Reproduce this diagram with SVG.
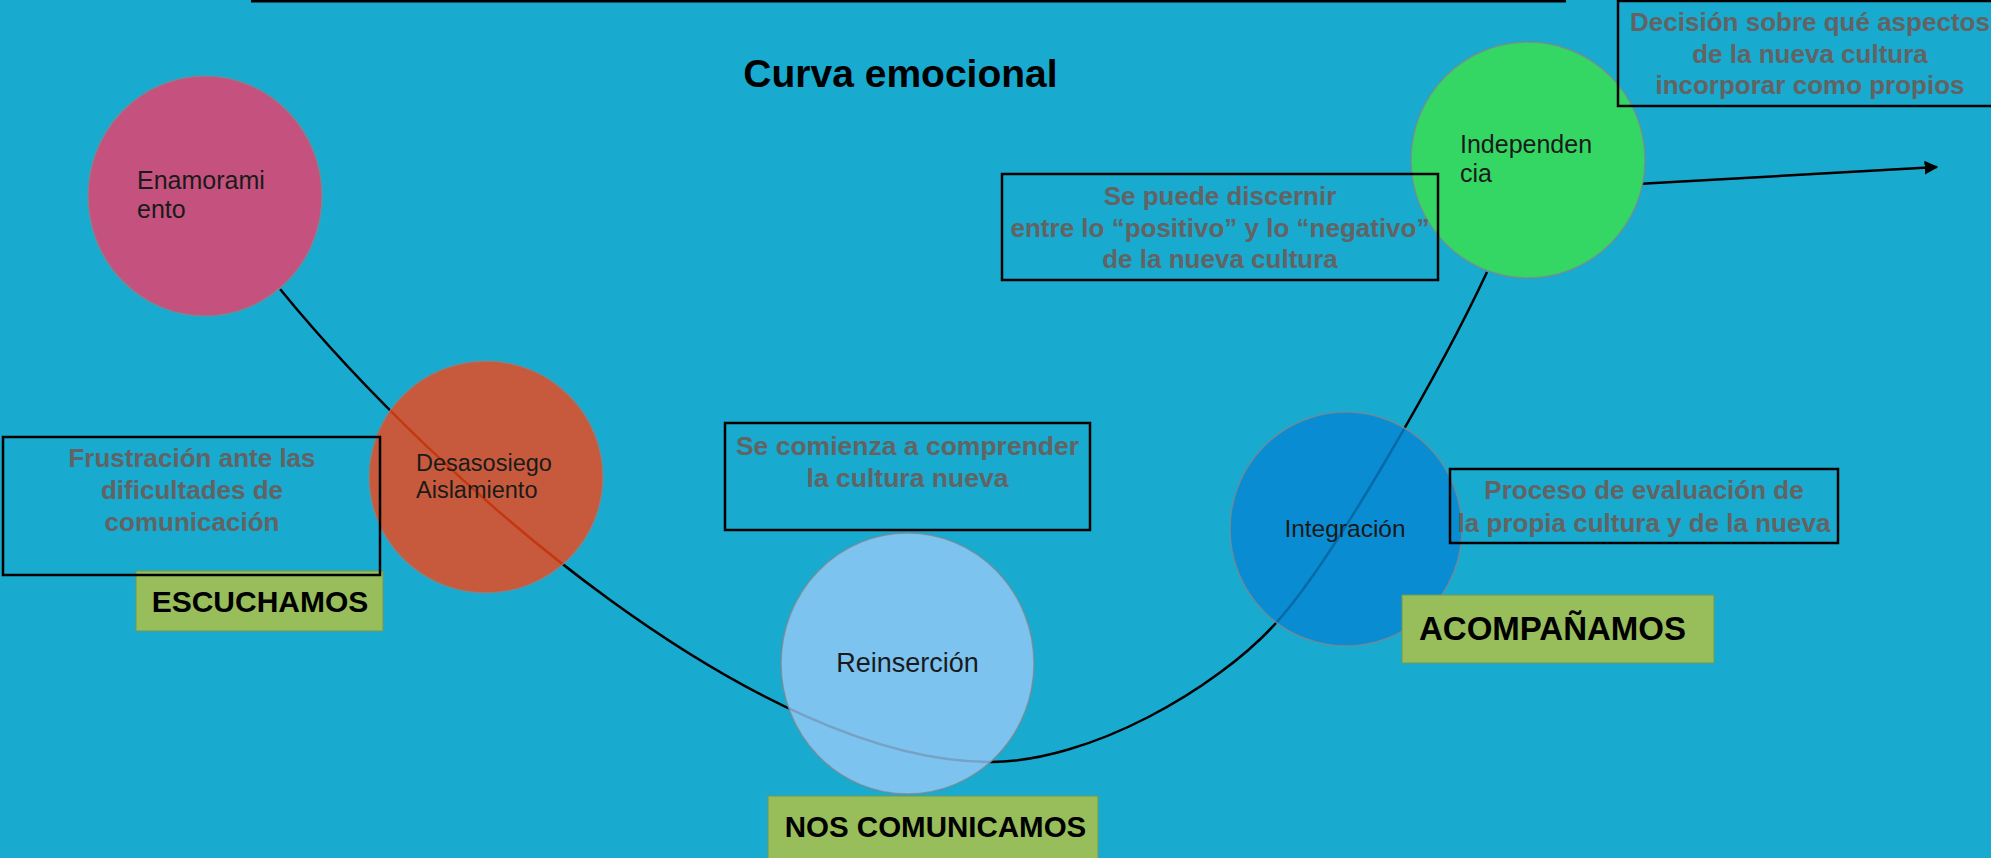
<svg xmlns="http://www.w3.org/2000/svg" width="1991" height="858" viewBox="0 0 1991 858">
<defs>
<style>
.node { stroke: #7a8a90; stroke-width: 1.5; stroke-opacity: 0.8; }
.ntext { font-family: "Liberation Sans", Arial, sans-serif; fill: #1a1a1a; }
.box { fill: none; stroke: #000; stroke-width: 2.5; }
.btext { font-family: "Liberation Sans", Arial, sans-serif; font-weight: bold; fill: #636363; font-size: 26px; text-anchor: middle; }
.tag { fill: #98BD5B; stroke: #6f9a55; stroke-width: 1; }
.ttext { font-family: "Liberation Sans", Arial, sans-serif; font-weight: bold; fill: #000; text-anchor: middle; }
.conn { fill: none; stroke: #000; stroke-width: 2.5; }
</style>
<marker id="arr" viewBox="0 0 10 10" refX="9" refY="5" markerWidth="5.5" markerHeight="5.5" orient="auto" markerUnits="strokeWidth">
<path d="M0,0 L10,5 L0,10 z" fill="#000"/>
</marker>
</defs>
<rect x="0" y="0" width="1991" height="858" fill="#18AACF"/>
<line x1="251" y1="1" x2="1566" y2="1" stroke="#000" stroke-width="3"/>
<text x="900.5" y="87" font-family="Liberation Sans, Arial, sans-serif" font-weight="bold" font-size="39" text-anchor="middle" fill="#000">Curva emocional</text>

<g id="connectors">
<path class="conn" d="M280,289 C440,485 760,762 990,762 C1090,762 1216,689 1276,623 C1336,557 1447,358 1487,272"/>
<line class="conn" x1="1637" y1="184" x2="1937" y2="167" marker-end="url(#arr)"/>
</g>

<g id="node-enamoramiento">
<ellipse class="node" cx="205" cy="196" rx="117" ry="120" fill="#C5527E"/>
<text class="ntext" font-size="25"><tspan x="137" y="189">Enamorami</tspan><tspan x="137" y="218">ento</tspan></text>
</g>
<g id="node-desasosiego">
<ellipse class="node" cx="486" cy="477" rx="117" ry="116" fill="#F44617" fill-opacity="0.8"/>
<text class="ntext" font-size="23.5"><tspan x="416" y="471">Desasosiego</tspan><tspan x="416" y="498">Aislamiento</tspan></text>
</g>
<g id="node-reinsercion">
<ellipse class="node" cx="907.5" cy="663.5" rx="126.5" ry="130.5" fill="#96C9F8" fill-opacity="0.8"/>
<text class="ntext" font-size="27" x="907.5" y="672" text-anchor="middle">Reinserción</text>
</g>
<g id="node-integracion">
<ellipse class="node" cx="1346" cy="529" rx="116" ry="117" fill="#0784D3" fill-opacity="0.8"/>
<text class="ntext" font-size="24.5" x="1345" y="537" text-anchor="middle">Integración</text>
</g>
<g id="node-independencia">
<ellipse class="node" cx="1528" cy="160" rx="117" ry="118" fill="#35D764"/>
<text class="ntext" font-size="25"><tspan x="1460" y="153">Independen</tspan><tspan x="1460" y="182">cia</tspan></text>
</g>

<g id="tag-escuchamos">
<rect class="tag" x="136" y="571" width="247" height="60"/>
<text class="ttext" font-size="30" x="260" y="612">ESCUCHAMOS</text>
</g>
<g id="tag-nos-comunicamos">
<rect class="tag" x="768" y="796" width="330" height="70"/>
<text class="ttext" font-size="29.5" x="935.5" y="837">NOS COMUNICAMOS</text>
</g>
<g id="tag-acompanamos">
<rect class="tag" x="1402" y="595" width="312" height="68"/>
<text class="ttext" font-size="33" x="1552.5" y="640">ACOMPAÑAMOS</text>
</g>

<g id="box-frustracion">
<rect class="box" x="3" y="437" width="377" height="138"/>
<text class="btext"><tspan x="192" y="467">Frustración ante las</tspan><tspan x="192" y="499">dificultades de</tspan><tspan x="192" y="531">comunicación</tspan></text>
</g>
<g id="box-comprender">
<rect class="box" x="725" y="423" width="365" height="107"/>
<text class="btext" style="font-size:26.5px"><tspan x="907.5" y="455">Se comienza a comprender</tspan><tspan x="907.5" y="487">la cultura nueva</tspan></text>
</g>
<g id="box-discernir">
<rect class="box" x="1002" y="174" width="436" height="106"/>
<text class="btext"><tspan x="1220" y="205">Se puede discernir</tspan><tspan x="1220" y="237">entre lo “positivo” y lo “negativo”</tspan><tspan x="1220" y="268">de la nueva cultura</tspan></text>
</g>
<g id="box-decision">
<rect class="box" x="1618" y="1" width="390" height="105"/>
<text class="btext"><tspan x="1810" y="31">Decisión sobre qué aspectos</tspan><tspan x="1810" y="63">de la nueva cultura</tspan><tspan x="1810" y="94">incorporar como propios</tspan></text>
</g>
<g id="box-proceso">
<rect class="box" x="1450" y="469" width="388" height="74"/>
<text class="btext"><tspan x="1644" y="499">Proceso de evaluación de</tspan><tspan x="1644" y="532">la propia cultura y de la nueva</tspan></text>
</g>
</svg>
